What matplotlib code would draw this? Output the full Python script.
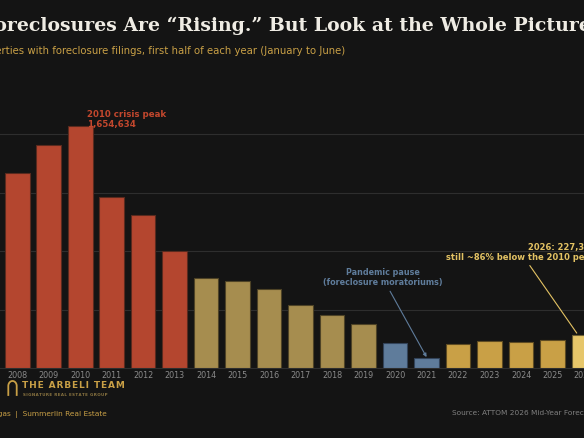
import numpy as np
import matplotlib
matplotlib.use("Agg")
import matplotlib.pyplot as plt
from matplotlib.lines import Line2D

# first half (Jan-Jun) properties with foreclosure filings
years = [str(y) for y in range(2008, 2027)]
filings = [1333000, 1527000, 1654634, 1171000, 1046000, 802000,
           615000, 599000, 540000, 433000, 367000, 301000,
           171000, 70000, 168000, 189000, 180000, 193000, 227384]

RED = "#b4462f"
TAN = "#a68d4f"
BLUE = "#5f7c9b"
GOLD = "#c9a046"
LIGHT = "#e6c66a"
BG = "#141414"

colors = [RED] * 6 + [TAN] * 6 + [BLUE] * 2 + [GOLD] * 4 + [LIGHT]
edges = ["#5a2a1e"] * 6 + ["#4e4326"] * 6 + ["#33445a"] * 2 + ["#5e4b22"] * 4 + ["#6e6033"]

fig = plt.figure(figsize=(5.84, 4.38), dpi=100, facecolor=BG)
ax = fig.add_axes([0, 0.159, 1, 0.613])
ax.set_facecolor(BG)

x = np.arange(len(years))
ax.bar(x, filings, width=0.78, color=colors, edgecolor=edges, linewidth=0.8, zorder=3)

ax.set_xlim(-0.548, 17.74)
ax.set_ylim(0, 1836000)
ax.set_yticks([400000, 800000, 1200000, 1600000])
ax.set_yticklabels([])
ax.tick_params(axis="y", length=0)
ax.grid(axis="y", color="#2e2e2e", linewidth=0.8, zorder=0)
ax.set_xticks(x)
ax.set_xticklabels(years, fontsize=5.8, color="#8a8a8a")
ax.tick_params(axis="x", length=0, pad=2)
for s in ["top", "left", "right"]:
    ax.spines[s].set_visible(False)
ax.spines["bottom"].set_color("#2e2e2e")
ax.spines["bottom"].set_linewidth(0.8)

# annotations
ax.text(2.21, 1701000, "2010 crisis peak\n1,654,634", color="#c2472d", fontsize=6.2,
        fontweight="bold", ha="left", va="center", linespacing=1.15, zorder=4)

ax.annotate("Pandemic pause\n(foreclosure moratoriums)", xy=(13, 77000), xytext=(11.6, 621000),
            color=BLUE, fontsize=5.8, fontweight="bold", ha="center", va="center",
            linespacing=1.2,
            arrowprops=dict(arrowstyle="-|>", color=BLUE, lw=0.8, mutation_scale=5,
                            shrinkA=1, shrinkB=0))

ax.annotate("2026: 227,384\nstill ~86% below the 2010 peak", xy=(17.77, 241000),
            xytext=(18.36, 795000), color="#e3c263", fontsize=6, fontweight="bold",
            ha="right", va="center", linespacing=1.15, annotation_clip=False,
            arrowprops=dict(arrowstyle="-", color="#e3c263", lw=0.8,
                            shrinkA=1, shrinkB=0))

# titles
fig.text(-0.030, 0.942, "Foreclosures Are \u201cRising.\u201d But Look at the Whole Picture",
         family="DejaVu Serif", fontweight="bold", fontsize=13.6, color="#efece4",
         ha="left", va="center")
fig.text(-0.047, 0.884, "Properties with foreclosure filings, first half of each year (January to June)",
         fontsize=7.3, color="#c9a046", ha="left", va="center")

# logo
t = np.linspace(0, np.pi, 40)
ax_x = 12.5 + 4.2 * np.cos(t)
ax_y = 438 - (386 - 5 * np.sin(t))
lx = np.concatenate([[ax_x[0]], ax_x, [ax_x[-1]]])
ly = np.concatenate([[438 - 395], ax_y, [438 - 395]])
fig.add_artist(Line2D(lx / 584, ly / 438, color=GOLD, lw=1.3))
fig.text(22 / 584, 1 - 386 / 438, "\u200a".join("THE ARBELI TEAM"), fontsize=6.5,
         fontweight="bold", color=GOLD, ha="left", va="center")
fig.text(23 / 584, 1 - 394.5 / 438, "\u200a".join("SIGNATURE REAL ESTATE GROUP"), fontsize=2.9,
         fontweight="bold", color="#8a7440", ha="left", va="center")

# footer
fig.text(-0.045, 1 - 415 / 438, "Las Vegas  |  Summerlin Real Estate", fontsize=5.3,
         color="#c9a046", ha="left", va="center")
fig.text(452 / 584, 1 - 413 / 438, "Source: ATTOM 2026 Mid-Year Foreclosure Market Report",
         fontsize=5.3, color="#808080", ha="left", va="center")

fig.savefig("out.png", dpi=100, facecolor=BG)
